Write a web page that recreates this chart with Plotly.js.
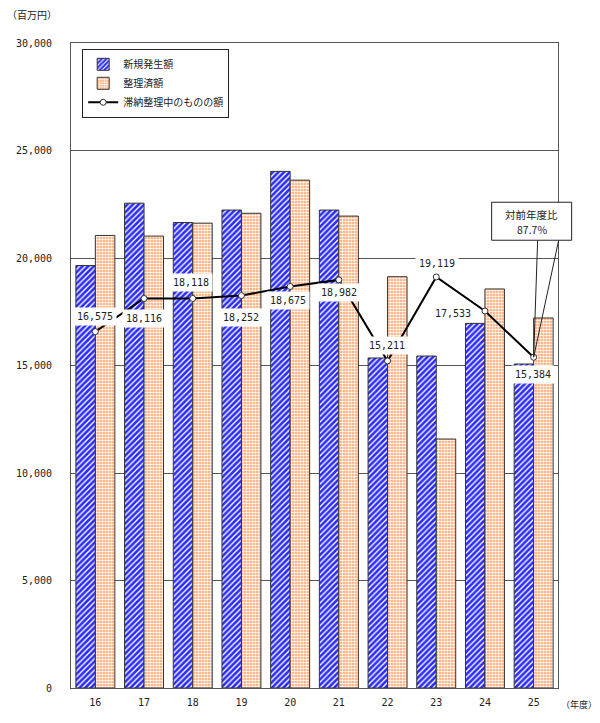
<!DOCTYPE html>
<html lang="ja">
<head>
    <meta charset="UTF-8">
    <title>滞納整理</title>
    <script src="https://cdn.plot.ly/plotly-3.0.1.min.js"></script>
    <style>
        body { margin: 0; background: white; }
        #myDiv { width: 600px; height: 723px; }
    </style>
</head>
<body>
    <div id="myDiv"></div>
    <script>
        // 年度
        var years = ['16', '17', '18', '19', '20', '21', '22', '23', '24', '25']
        // 新規発生額 (百万円)
        var newAmt = [19650, 22550, 21650, 22230, 24030, 22230, 15350, 15440, 16960, 15070]
        // 整理済額
        var doneAmt = [21050, 21020, 21620, 22080, 23620, 21950, 19130, 11580, 18560, 17210]
        // 滞納整理中のものの額
        var pending = [16575, 18116, 18118, 18252, 18675, 18982, 15211, 19119, 17533, 15384]
        var pendingText = ['16,575', '18,116', '18,118', '18,252', '18,675', '18,982', '15,211', '19,119', '17,533', '15,384']

        var yMax = 30000
        var jp = '"Noto Sans CJK JP", "DejaVu Sans", sans-serif'
        var mono = '"DejaVu Sans Mono", monospace'

        var trace1 = {
            x: years,
            y: newAmt,
            name: '新規発生額',
            type: 'bar',
            marker: {
                color: '#2a2aff',
                line: { color: '#333', width: 1 },
                pattern: { shape: '/', bgcolor: '#2a2aff', fgcolor: 'white', size: 4, solidity: 0.35 }
            },
            hoverinfo: 'skip'
        }
        var trace2 = {
            x: years,
            y: doneAmt,
            name: '整理済額',
            type: 'bar',
            marker: {
                color: '#ff9a5c',
                line: { color: '#333', width: 1 },
                pattern: { shape: '.', bgcolor: '#ff9a5c', fgcolor: '#ffffff', size: 3, solidity: 0.55 }
            },
            hoverinfo: 'skip'
        }
        var trace3 = {
            x: years,
            y: pending,
            name: '滞納整理中のものの額',
            type: 'scatter',
            mode: 'lines+markers',
            line: { color: 'black', width: 2 },
            marker: { symbol: 'circle', size: 6, color: 'white', line: { color: '#333', width: 1 } },
            hoverinfo: 'skip'
        }

        // label offsets (pixels) for each point label
        var shiftX = [0, 0, -2, 0, -2, 0, -1, 1, -32, -1]
        var shiftY = [15, -20, 16, -22, -14, -13, 15, 13, -2, -17]

        var annotations = []
        for (let i = 0; i < years.length; i++) {
            annotations.push({
                x: i, y: pending[i], xref: 'x', yref: 'y',
                text: pendingText[i], showarrow: false,
                xshift: shiftX[i], yshift: shiftY[i],
                bgcolor: i == 8 ? 'rgba(0,0,0,0)' : 'white', borderpad: 3,
                font: { family: mono, size: 10, color: '#222' }
            })
        }
        // callout text for the last year (two lines, box drawn as a shape)
        annotations.push({
            x: 9, y: pending[9], xref: 'x', yref: 'y',
            text: '対前年度比', showarrow: false, xshift: -2, yshift: 143,
            font: { family: jp, size: 10.5, color: '#222' }
        })
        annotations.push({
            x: 9, y: pending[9], xref: 'x', yref: 'y',
            text: '87.7%', showarrow: false, xshift: -2, yshift: 128,
            font: { family: jp, size: 10.5, color: '#222' }
        })
        annotations.push({
            x: 0, y: 1, xref: 'paper', yref: 'paper', xanchor: 'right', yanchor: 'middle',
            xshift: -12, yshift: 29, text: '（百万円）', showarrow: false,
            font: { family: jp, size: 10, color: '#222' }
        })
        annotations.push({
            x: 1, y: 0, xref: 'paper', yref: 'paper', xanchor: 'left', yanchor: 'middle',
            xshift: 1, yshift: -16, text: '（年度）', showarrow: false,
            font: { family: jp, size: 9, color: '#222' }
        })

        // callout box + pointer, sized in pixels around the 25 point
        // (paper refs so the box may run past the plot frame like the original)
        var ax = (years.length - 0.5) / years.length
        var ay = pending[9] / yMax
        var shapes = [
            { type: 'line', xref: 'paper', yref: 'paper', xsizemode: 'pixel', ysizemode: 'pixel',
              xanchor: ax, yanchor: ay, x0: 0, y0: 0, x1: 4, y1: 117,
              line: { color: '#222', width: 1 } },
            { type: 'line', xref: 'paper', yref: 'paper', xsizemode: 'pixel', ysizemode: 'pixel',
              xanchor: ax, yanchor: ay, x0: 0, y0: 0, x1: 25, y1: 117,
              line: { color: '#222', width: 1 } },
            { type: 'rect', xref: 'paper', yref: 'paper', xsizemode: 'pixel', ysizemode: 'pixel',
              xanchor: ax, yanchor: ay, x0: -42, y0: 117, x1: 38, y1: 155,
              fillcolor: 'white', line: { color: '#222', width: 1 } }
        ]

        var layout = {
            width: 600,
            height: 723,
            margin: { l: 71, r: 42, t: 43, b: 35 },
            paper_bgcolor: 'white',
            plot_bgcolor: 'white',
            barmode: 'group',
            bargap: 0.2,
            bargroupgap: 0,
            showlegend: true,
            legend: {
                x: 0.023, y: 0.991, xanchor: 'left', yanchor: 'top',
                bgcolor: 'white', bordercolor: '#222', borderwidth: 1,
                font: { family: jp, size: 10, color: '#222' },
                traceorder: 'normal', itemwidth: 30
            },
            xaxis: {
                type: 'category',
                range: [-0.5, 9.5],
                showline: true, mirror: true, linecolor: '#555', linewidth: 1,
                ticks: '', showgrid: false,
                tickfont: { family: mono, size: 10, color: '#222' },
                ticklabelstandoff: 5
            },
            yaxis: {
                range: [0, yMax],
                dtick: 5000,
                tickformat: ',',
                ticks: 'inside', ticklen: 5, tickcolor: '#555',
                showline: true, mirror: true, linecolor: '#555', linewidth: 1,
                showgrid: true, gridcolor: '#555', gridwidth: 1,
                zeroline: false,
                tickfont: { family: mono, size: 10, color: '#222' },
                ticklabelstandoff: 16
            },
            shapes: shapes,
            annotations: annotations
        }

        var data = [trace1, trace2, trace3]
        Plotly.newPlot('myDiv', data, layout, { displayModeBar: false, staticPlot: true });
    </script>
</body>
</html>
